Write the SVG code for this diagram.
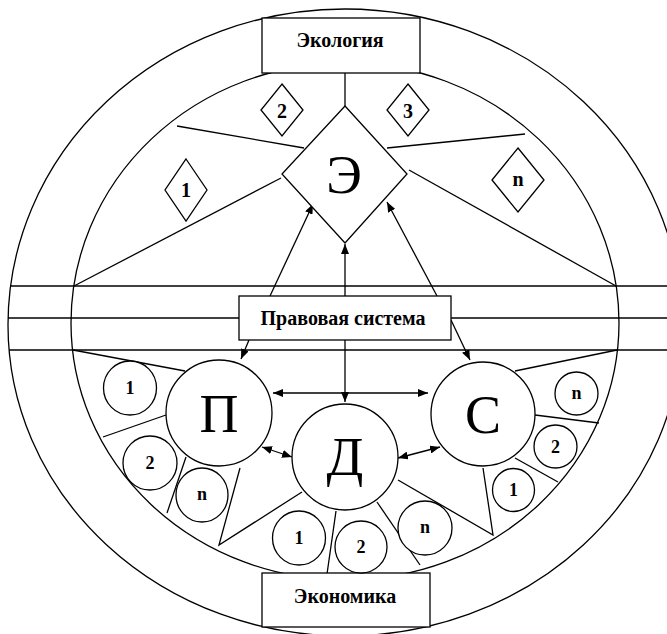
<svg xmlns="http://www.w3.org/2000/svg" width="667" height="634" viewBox="0 0 667 634">
<defs>
<style>
.ln{stroke:#000;stroke-width:1.3;fill:none}
.sh{stroke:#000;stroke-width:1.3;fill:#fff}
.box{font-family:"Liberation Serif","Times New Roman",serif;font-weight:bold;font-size:20px;text-anchor:middle;fill:#000}
.big{font-family:"Liberation Serif","Times New Roman",serif;font-size:54px;text-anchor:middle;fill:#000}
.sm{font-family:"Liberation Serif","Times New Roman",serif;font-weight:bold;font-size:18px;text-anchor:middle;fill:#000}
.dm{font-family:"Liberation Serif","Times New Roman",serif;font-weight:bold;font-size:20px;text-anchor:middle;fill:#000}
</style>
<marker id="ah" viewBox="0 0 10 8" refX="10" refY="4" markerWidth="10" markerHeight="8" markerUnits="userSpaceOnUse" orient="auto-start-reverse">
<path d="M0,0 L10,4 L0,8 Z" fill="#000"/>
</marker>
</defs>
<rect width="667" height="634" fill="#fff"/>

<g id="background">
<path class="ln" d="M8,325 A337,316 0 0 1 682,325 A337,311 0 0 1 8,325 Z"/>
<path class="ln" d="M71,323 A274,260 0 0 1 619,323 A274,257 0 0 1 71,323 Z"/>
<line class="ln" x1="10" y1="286" x2="667" y2="286"/>
<line class="ln" x1="8" y1="318" x2="239" y2="318"/>
<line class="ln" x1="451" y1="318" x2="667" y2="318"/>
<line class="ln" x1="9" y1="350" x2="667" y2="350"/>
<!-- sector dividers upper -->
<line class="ln" x1="177" y1="126" x2="304" y2="148"/>
<line class="ln" x1="387" y1="148" x2="525" y2="134"/>
<line class="ln" x1="281" y1="178" x2="74" y2="286"/>
<line class="ln" x1="409" y1="170" x2="616" y2="286"/>
<!-- sector dividers lower -->
<line class="ln" x1="73" y1="350" x2="185" y2="371"/>
<line class="ln" x1="103" y1="437" x2="166" y2="415"/>
<line class="ln" x1="167" y1="513" x2="186" y2="457"/>
<polyline class="ln" points="240,468 219,545 302,492"/>
<line class="ln" x1="336" y1="511" x2="327" y2="574"/>
<line class="ln" x1="377" y1="502" x2="420" y2="565"/>
<polyline class="ln" points="398,480 493,535 483,468"/>
<line class="ln" x1="515" y1="458" x2="558" y2="482"/>
<line class="ln" x1="535" y1="415" x2="599" y2="423"/>
<line class="ln" x1="515" y1="371" x2="617" y2="350"/>
</g>

<g id="connectors">
<line class="ln" x1="345" y1="73" x2="345" y2="106"/>
<line class="ln" x1="270" y1="296" x2="313" y2="204" marker-end="url(#ah)"/>
<line class="ln" x1="345" y1="296" x2="345" y2="244" marker-end="url(#ah)"/>
<line class="ln" x1="437" y1="296" x2="387" y2="202" marker-end="url(#ah)"/>
<line class="ln" x1="249" y1="340" x2="241" y2="359" marker-end="url(#ah)"/>
<line class="ln" x1="451" y1="320" x2="470" y2="360" marker-end="url(#ah)"/>
<line class="ln" x1="345" y1="340" x2="345" y2="402" marker-end="url(#ah)"/>
<line class="ln" x1="273" y1="393" x2="428" y2="393" marker-start="url(#ah)" marker-end="url(#ah)"/>
<line class="ln" x1="262" y1="447" x2="292" y2="457" marker-start="url(#ah)" marker-end="url(#ah)"/>
<line class="ln" x1="398" y1="458" x2="440" y2="447" marker-start="url(#ah)" marker-end="url(#ah)"/>
</g>

<g id="ecology">
<rect class="sh" x="262" y="18" width="158" height="55"/>
<text class="box" x="340" y="47">Экология</text>
</g>
<g id="law">
<rect class="sh" x="239" y="296" width="212" height="44"/>
<text class="box" x="343" y="325">Правовая система</text>
</g>
<g id="economy">
<rect class="sh" x="262" y="573" width="168" height="54"/>
<text class="box" x="345" y="603">Экономика</text>
</g>

<g id="E">
<polygon class="sh" points="345,106 407,174 345,243 282,174"/>
<text class="big" x="344" y="193">Э</text>
</g>
<g id="E1"><polygon class="sh" points="186,159 207,190 186,221 165,190"/><text class="dm" x="186" y="197">1</text></g>
<g id="E2"><polygon class="sh" points="282,84 303,110 282,136 261,110"/><text class="dm" x="282" y="118">2</text></g>
<g id="E3"><polygon class="sh" points="408,84 429,110 408,136 387,110"/><text class="dm" x="408" y="118">3</text></g>
<g id="En"><polygon class="sh" points="518,148 544,180 518,212 492,180"/><text class="dm" x="518" y="186">n</text></g>

<g id="P">
<circle class="sh" cx="219" cy="413" r="53"/>
<text class="big" x="219" y="432">П</text>
</g>
<g id="D">
<circle class="sh" cx="345" cy="457" r="53"/>
<text class="big" x="345" y="475">Д</text>
</g>
<g id="S">
<circle class="sh" cx="483" cy="414" r="52"/>
<text class="big" x="483" y="433">С</text>
</g>

<g id="P1"><ellipse class="sh" cx="130" cy="388" rx="26.5" ry="27"/><text class="sm" x="130" y="394">1</text></g>
<g id="P2"><ellipse class="sh" cx="150" cy="463" rx="27" ry="27"/><text class="sm" x="150" y="469">2</text></g>
<g id="Pn"><ellipse class="sh" cx="202" cy="495" rx="26" ry="27"/><text class="sm" x="202" y="500">n</text></g>
<g id="D1"><ellipse class="sh" cx="299" cy="538" rx="26.5" ry="27"/><text class="sm" x="299" y="544">1</text></g>
<g id="D2"><ellipse class="sh" cx="361" cy="547" rx="26" ry="26"/><text class="sm" x="361" y="553">2</text></g>
<g id="Dn"><ellipse class="sh" cx="425" cy="528" rx="27" ry="27"/><text class="sm" x="425" y="533">n</text></g>
<g id="S1"><ellipse class="sh" cx="513.5" cy="490" rx="21" ry="21.5"/><text class="sm" x="513.5" y="496">1</text></g>
<g id="S2"><ellipse class="sh" cx="555.5" cy="446.5" rx="21.5" ry="21.5"/><text class="sm" x="555.5" y="452.5">2</text></g>
<g id="Sn"><ellipse class="sh" cx="576.5" cy="393.5" rx="21.5" ry="21.5"/><text class="sm" x="576.5" y="399">n</text></g>
</svg>
